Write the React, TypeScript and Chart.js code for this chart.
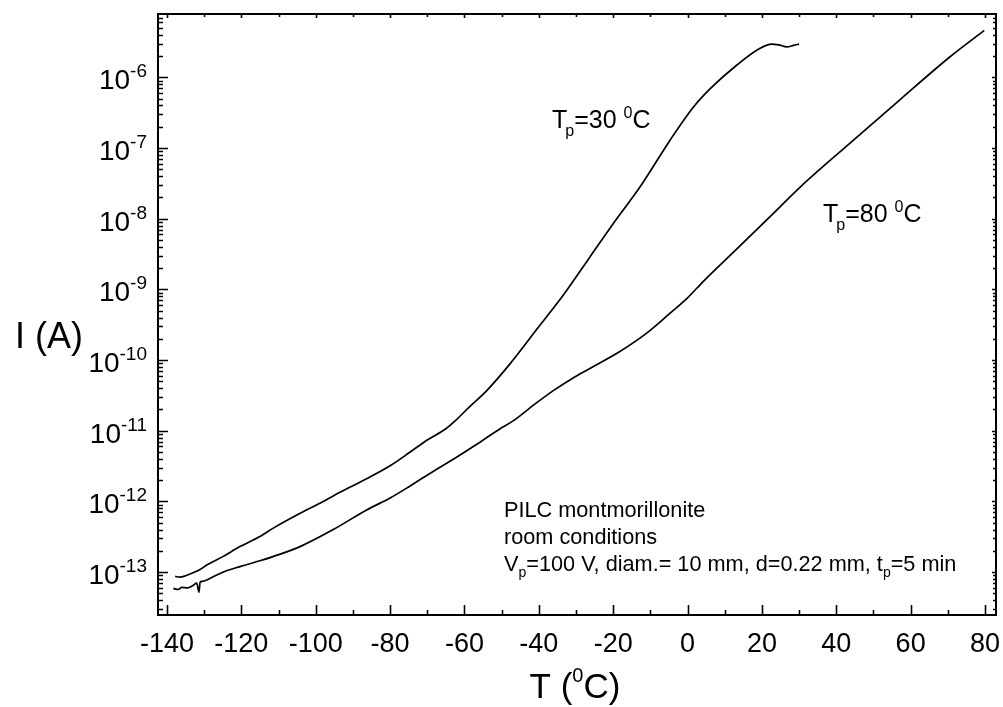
import React, { useEffect, useRef } from "react";
import { Chart, registerables } from "chart.js";

Chart.register(...registerables);

// Tp = 30 °C curve: temperature (°C) and current (A)
const tp30Temp = [
  -137.8, -136.5, -135, -133, -131, -129.3, -125, -120.4, -115, -111.4, -104.2, -98, -95.3,
  -86.3, -80, -74.6, -70, -65.2, -62.5, -59.4, -54, -47.7, -40.6, -33.4, -26.2, -20, -12.8,
  -4.7, 1.6, 6.1, 13.2, 19.5, 22.6, 24.5, 26.7, 28.5, 30,
];
const tp30Current = [
  8.7e-14, 8.5e-14, 8.9e-14, 9.8e-14, 1.1e-13, 1.26e-13, 1.66e-13, 2.3e-13, 3.2e-13, 4.2e-13,
  6.8e-13, 1.0e-12, 1.2e-12, 2.1e-12, 3.2e-12, 5.0e-12, 7.4e-12, 1.05e-11, 1.38e-11, 2.0e-11,
  3.7e-11, 8.9e-11, 2.7e-10, 8.3e-10, 2.9e-9, 8.5e-9, 2.8e-8, 1.29e-7, 3.8e-7, 6.9e-7, 1.48e-6,
  2.57e-6, 2.95e-6, 2.88e-6, 2.69e-6, 2.82e-6, 2.95e-6,
];

// Tp = 80 °C curve
const tp80Temp = [
  -138.3, -137, -136, -134.5, -133, -132, -131.4, -131.1, -130.5, -129, -127, -124, -120.4, -115,
  -111.5, -104.2, -95.3, -86.3, -80, -74.6, -68, -63.9, -57, -50.4, -46.9, -41, -36.1, -31, -27.1,
  -18.2, -11, -4.7, 0, 4.2, 13.2, 22.2, 30.3, 43.7, 57.1, 70.6, 79.8,
];
const tp80Current = [
  5.9e-14, 5.7e-14, 6.1e-14, 6.0e-14, 6.5e-14, 7.0e-14, 5.2e-14, 7.2e-14, 7.4e-14, 7.9e-14,
  8.9e-14, 1.05e-13, 1.2e-13, 1.45e-13, 1.66e-13, 2.3e-13, 4.0e-13, 7.6e-13, 1.12e-12, 1.66e-12,
  2.75e-12, 3.7e-12, 6.3e-12, 1.07e-11, 1.38e-11, 2.4e-11, 3.7e-11, 5.5e-11, 7.2e-11, 1.32e-10,
  2.4e-10, 4.6e-10, 7.6e-10, 1.29e-9, 3.7e-9, 1.07e-8, 2.8e-8, 1.17e-7, 4.8e-7, 1.95e-6,
  4.6e-6,
];

const xTickLabels = [-140, -120, -100, -80, -60, -40, -20, 0, 20, 40, 60, 80];
const xMinorTicks = [-130, -110, -90, -70, -50, -30, -10, 10, 30, 50, 70];
const yDecadeExponents = [-13, -12, -11, -10, -9, -8, -7, -6];

const FONT = "'Liberation Sans', Arial, Helvetica, sans-serif";

type Run = { t: string; size: number; dy: number };

function runsWidth(ctx: CanvasRenderingContext2D, runs: Run[]) {
  let w = 0;
  for (const r of runs) {
    ctx.font = `${r.size}px ${FONT}`;
    w += ctx.measureText(r.t).width;
  }
  return w;
}

function drawRuns(ctx: CanvasRenderingContext2D, x: number, y: number, runs: Run[]) {
  let cx = x;
  ctx.textAlign = "left";
  ctx.textBaseline = "alphabetic";
  for (const r of runs) {
    ctx.font = `${r.size}px ${FONT}`;
    ctx.fillText(r.t, cx, y + r.dy);
    cx += ctx.measureText(r.t).width;
  }
  return cx;
}

const axesPlugin = {
  id: "originAxes",
  beforeDraw(chart: any) {
    const ctx = chart.ctx;
    ctx.save();
    ctx.fillStyle = "#ffffff";
    ctx.fillRect(0, 0, chart.width, chart.height);
    ctx.restore();
  },
  afterDraw(chart: any) {
    const ctx: CanvasRenderingContext2D = chart.ctx;
    const { left, right, top, bottom } = chart.chartArea;
    const xs = chart.scales.x;
    const ys = chart.scales.y;
    ctx.save();
    ctx.strokeStyle = "#000";
    ctx.fillStyle = "#000";

    // frame
    ctx.lineWidth = 2;
    ctx.strokeRect(left, top, right - left, bottom - top);

    ctx.lineWidth = 1.6;
    ctx.beginPath();
    // x ticks
    const xt = (v: number, majorLen: number, topLen: number) => {
      const px = Math.round(xs.getPixelForValue(v)) + 0.5;
      ctx.moveTo(px, bottom);
      ctx.lineTo(px, bottom - majorLen);
      ctx.moveTo(px, top);
      ctx.lineTo(px, top + topLen);
    };
    xTickLabels.forEach((v) => xt(v, 10, 4));
    xMinorTicks.forEach((v) => xt(v, 5, 3));
    // y ticks
    for (let e = -14; e <= -5; e++) {
      for (let m = 1; m <= 9; m++) {
        const v = m * Math.pow(10, e);
        if (v < ys.min || v > ys.max) continue;
        const py = Math.round(ys.getPixelForValue(v)) + 0.5;
        const major = m === 1;
        ctx.moveTo(left, py);
        ctx.lineTo(left + (major ? 10 : 5), py);
        ctx.moveTo(right, py);
        ctx.lineTo(right - (major ? 4 : 3), py);
      }
    }
    ctx.stroke();

    // x tick labels
    ctx.font = `27px ${FONT}`;
    ctx.textAlign = "center";
    ctx.textBaseline = "alphabetic";
    xTickLabels.forEach((v) => {
      ctx.fillText(String(v), xs.getPixelForValue(v), bottom + 37);
    });

    // y tick labels 10^e
    yDecadeExponents.forEach((e) => {
      const py = ys.getPixelForValue(Math.pow(10, e));
      const runs: Run[] = [
        { t: "10", size: 28, dy: 12 },
        { t: String(e), size: 19, dy: 0 },
      ];
      const w = runsWidth(ctx, runs);
      drawRuns(ctx, left - 11 - w, py, runs);
    });

    // x title
    const xTitle: Run[] = [
      { t: "T (", size: 35, dy: 0 },
      { t: "0", size: 20, dy: -16 },
      { t: "C)", size: 35, dy: 0 },
    ];
    const xw = runsWidth(ctx, xTitle);
    drawRuns(ctx, (left + right) / 2 - xw / 2 - 2, bottom + 83, xTitle);

    // y title
    drawRuns(ctx, 15, 348, [{ t: "I (A)", size: 36, dy: 0 }]);

    // curve annotations
    const tpLabel = (x: number, y: number, val: string) => {
      let cx = drawRuns(ctx, x, y, [{ t: "T", size: 25, dy: 0 }]);
      cx = drawRuns(ctx, cx - 2, y, [{ t: "p", size: 16, dy: 8 }]);
      drawRuns(ctx, cx, y, [
        { t: "=" + val + " ", size: 25, dy: 0 },
        { t: "0", size: 16, dy: -10 },
        { t: "C", size: 25, dy: 0 },
      ]);
    };
    tpLabel(552, 128, "30");
    tpLabel(823, 222, "80");

    // conditions text
    const fs = 21.7;
    drawRuns(ctx, 504, 517, [{ t: "PILC montmorillonite", size: fs, dy: 0 }]);
    drawRuns(ctx, 504, 544, [{ t: "room conditions", size: fs, dy: 0 }]);
    drawRuns(ctx, 504, 571, [
      { t: "V", size: fs, dy: 0 },
      { t: "p", size: 14, dy: 6 },
      { t: "=100 V, diam.= 10 mm, d=0.22 mm, t", size: fs, dy: 0 },
      { t: "p", size: 14, dy: 6 },
      { t: "=5 min", size: fs, dy: 0 },
    ]);

    ctx.restore();
  },
};

export default function App() {
  const canvasRef = useRef<HTMLCanvasElement | null>(null);

  useEffect(() => {
    const canvas = canvasRef.current;
    if (!canvas) return;
    const chart = new Chart(canvas, {
      type: "scatter",
      data: {
        datasets: [
          {
            label: "Tp=30 °C",
            data: tp30Temp.map((t, i) => ({ x: t, y: tp30Current[i] })),
            showLine: true,
            borderColor: "#000",
            borderWidth: 1.7,
            pointRadius: 0,
            cubicInterpolationMode: "monotone",
          },
          {
            label: "Tp=80 °C",
            data: tp80Temp.map((t, i) => ({ x: t, y: tp80Current[i] })),
            showLine: true,
            borderColor: "#000",
            borderWidth: 1.7,
            pointRadius: 0,
            cubicInterpolationMode: "monotone",
          },
        ],
      },
      options: {
        animation: false,
        responsive: false,
        devicePixelRatio: 1,
        layout: { padding: { left: 158, top: 14, right: 7, bottom: 92 } },
        plugins: { legend: { display: false }, tooltip: { enabled: false } },
        scales: {
          x: { type: "linear", min: -142.42, max: 82.96, display: false },
          y: { type: "logarithmic", min: 2.48e-14, max: 7.85e-6, display: false },
        },
      },
      plugins: [axesPlugin],
    } as any);
    return () => chart.destroy();
  }, []);

  return (
    <div style={{ position: "absolute", left: 0, top: 0, width: 1003, height: 707, background: "#fff" }}>
      <canvas ref={canvasRef} width={1003} height={707} style={{ display: "block" }} />
    </div>
  );
}
